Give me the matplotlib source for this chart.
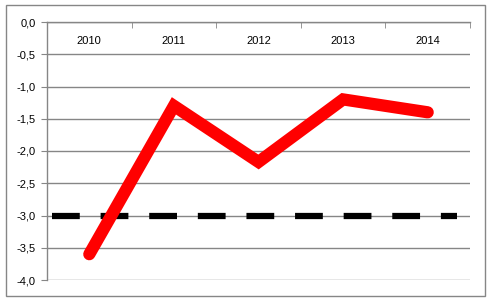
import matplotlib.pyplot as plt
from matplotlib.patches import Rectangle
from matplotlib.ticker import FuncFormatter, FixedLocator

plt.rcParams["lines.scale_dashes"] = False

years = ["2010", "2011", "2012", "2013", "2014"]
values = [-3.6, -1.3, -2.17, -1.2, -1.4]
ref_x = [-0.44, 4.35]
ref_y = [-3.0, -3.0]

W, H, DPI = 494, 304, 100
fig = plt.figure(figsize=(W / DPI, H / DPI), dpi=DPI)

# outer chart border
fig.patches.append(Rectangle((6 / W, 1 - 296 / H), 479 / W, 291 / H,
                             transform=fig.transFigure, fill=False,
                             edgecolor="#868686", linewidth=1.0))

left, right, top, bottom = 47, 470, 22, 280
ax = fig.add_axes([left / W, 1 - bottom / H, (right - left) / W, (bottom - top) / H])

grid_c = "#868686"
x = list(range(len(years)))

ax.plot(ref_x, ref_y, color="black", linewidth=4.5, linestyle=(0, (20, 15)),
        solid_capstyle="butt", dash_capstyle="butt", zorder=2)
ax.plot(x, values, color="#ff0000", linewidth=8.8, solid_capstyle="round",
        solid_joinstyle="miter", zorder=3)

ax.set_xlim(-0.5, len(years) - 0.5)
ax.set_ylim(-4.0, 0.0)

ax.set_yticks([-4.0 + 0.5 * i for i in range(9)])
ax.yaxis.set_major_formatter(FuncFormatter(lambda v, p: f"{v:.1f}".replace(".", ",")))
ax.yaxis.grid(True, color=grid_c, linewidth=1.0)
ax.set_axisbelow(True)

ax.xaxis.tick_top()
ax.set_xticks(x)
ax.set_xticklabels(years)
ax.xaxis.set_minor_locator(FixedLocator([i - 0.5 for i in range(len(years) + 1)]))
ax.tick_params(axis="x", which="major", length=0, pad=-17.5, labelsize=8, colors="black")
ax.tick_params(axis="x", which="minor", top=True, bottom=False, direction="in",
               length=4, color=grid_c)
ax.tick_params(axis="y", length=4, color=grid_c, labelsize=8, pad=4)

for s in ["right", "bottom"]:
    ax.spines[s].set_visible(False)
for s in ["left", "top"]:
    ax.spines[s].set_color(grid_c)
    ax.spines[s].set_linewidth(1.0)

for lab in ax.get_xticklabels() + ax.get_yticklabels():
    lab.set_fontfamily("Liberation Sans")

fig.savefig("out.png", dpi=DPI)
